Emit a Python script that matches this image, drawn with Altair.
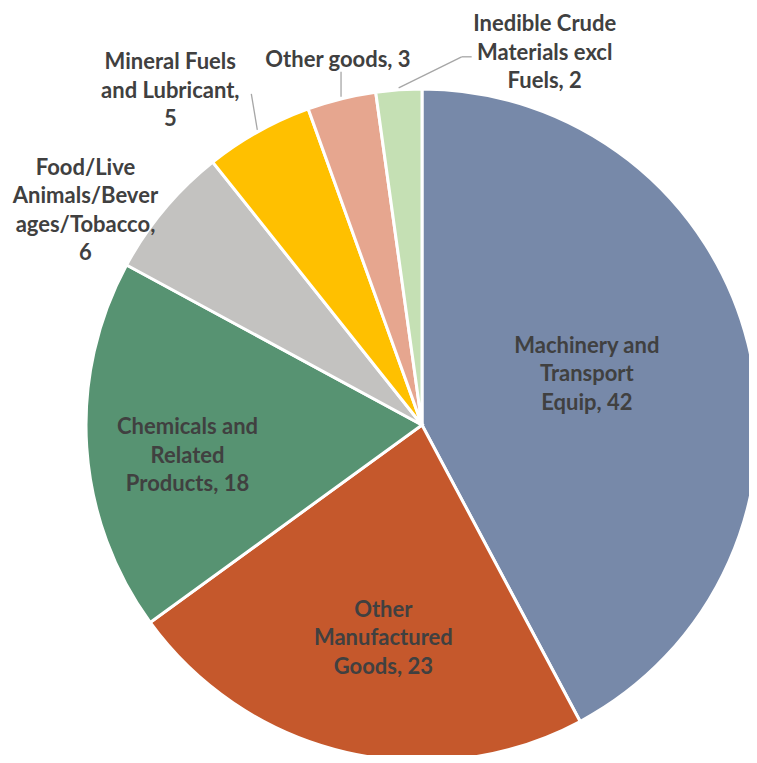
import altair as alt
import pandas as pd

# ---- data ----
categories = [
    "Machinery and Transport Equip",
    "Other Manufactured Goods",
    "Chemicals and Related Products",
    "Food/Live Animals/Beverages/Tobacco",
    "Mineral Fuels and Lubricant",
    "Other goods",
    "Inedible Crude Materials excl Fuels",
]
values = [42.2, 22.8, 17.9, 6.4, 5.2, 3.3, 2.2]
label_templates = [
    "Machinery and\nTransport\nEquip, {v}",
    "Other\nManufactured\nGoods, {v}",
    "Chemicals and\nRelated\nProducts, {v}",
    "Food/Live\nAnimals/Bever\nages/Tobacco,\n{v}",
    "Mineral Fuels\nand Lubricant,\n{v}",
    "Other goods, {v}",
    "Inedible Crude\nMaterials excl\nFuels, {v}",
]
colors = ["#7789A9", "#C5582C", "#579372", "#C3C2C0", "#FFC000", "#E6A68F", "#C5E0B4"]

labels = [label_templates[i].format(v=round(values[i])) for i in range(len(values))]
df = pd.DataFrame({
    "idx": list(range(len(categories))),
    "cat": categories,
    "v": values,
    "label": labels,
})

# ---- layout ----
W, H = 654, 660
CX, CY = W / 2, H / 2
R = 336
TEXT = "#404040"
LINE = "#A6A6A6"
FS = 22
LH = 28.5

# label placement: radius along slice mid-angle + pixel nudges (block centre)
placements = {
    "Machinery and Transport Equip": dict(r=172, dx=-2, dy=-9),
    "Other Manufactured Goods": dict(r=217, dx=10, dy=2),
    "Chemicals and Related Products": dict(r=236, dx=1, dy=15),
    "Food/Live Animals/Beverages/Tobacco": dict(r=396, dx=-33, dy=40),
    "Mineral Fuels and Lubricant": dict(r=416, dx=-49, dy=29),
    "Other goods": dict(r=376, dx=6, dy=0),
    "Inedible Crude Materials excl Fuels": dict(r=366, dx=148, dy=-7),
}
# leader lines: start on the slice edge at mid-angle, then offsets
leaders = {
    "Mineral Fuels and Lubricant": [(-6, -36)],
    "Other goods": [(0, -25)],
    "Inedible Crude Materials excl Fuels": [(63, -31), (73, -31)],
}

base = (
    alt.Chart(df)
    .transform_window(cum="sum(v)", sort=[alt.SortField("idx")], frame=[None, 0])
    .transform_joinaggregate(total="sum(v)")
    .transform_calculate(
        s="(datum.cum - datum.v) / datum.total",
        e="datum.cum / datum.total",
        m="(datum.cum - datum.v / 2) / datum.total",
        a="2 * PI * (datum.cum - datum.v / 2) / datum.total",
    )
)
theta_scale = alt.Scale(domain=[0, 1])

arcs = base.mark_arc(outerRadius=R, stroke="white", strokeWidth=3).encode(
    theta=alt.Theta("s:Q", scale=theta_scale),
    theta2="e:Q",
    color=alt.Color("cat:N", scale=alt.Scale(domain=categories, range=colors), legend=None),
)

layers = [arcs]

for cat, segs in leaders.items():
    pts = [(0, 0)] + segs
    for i in range(len(pts) - 1):
        (ax, ay), (bx, by) = pts[i], pts[i + 1]
        sx = f"{CX} + {R + 2} * sin(datum.a)"
        sy = f"{CY} - {R + 2} * cos(datum.a)"
        rule = (
            base.transform_filter(alt.datum.cat == cat)
            .transform_calculate(
                x1=f"{sx} + {ax}", y1=f"{sy} + {ay}",
                x2=f"{sx} + {bx}", y2=f"{sy} + {by}",
            )
            .mark_rule(color=LINE, strokeWidth=1.3)
            .encode(
                x=alt.X("x1:Q", scale=None, axis=None),
                y=alt.Y("y1:Q", scale=None, axis=None),
                x2="x2:Q",
                y2="y2:Q",
            )
        )
        layers.append(rule)

for i, cat in enumerate(categories):
    p = placements[cat]
    n_lines = labels[i].count("\n") + 1
    txt = (
        base.transform_filter(alt.datum.cat == cat)
        .mark_text(
            radius=p["r"], dx=p["dx"], dy=p["dy"] - (n_lines - 1) * LH / 2,
            font="Lato", fontWeight="bold", fontSize=FS, color=TEXT,
            lineBreak="\n", lineHeight=LH, align="center", baseline="middle",
        )
        .encode(theta=alt.Theta("m:Q", scale=theta_scale), text="label:N")
    )
    layers.append(txt)

chart = (
    alt.layer(*layers)
    .properties(
        width=W, height=H,
        padding={"left": 87, "top": 87, "right": 0, "bottom": 0},
        autosize="none",
        background="white",
    )
    .configure_view(stroke=None)
)

chart.save("out.html", embed_options={"renderer": "svg", "actions": False})
